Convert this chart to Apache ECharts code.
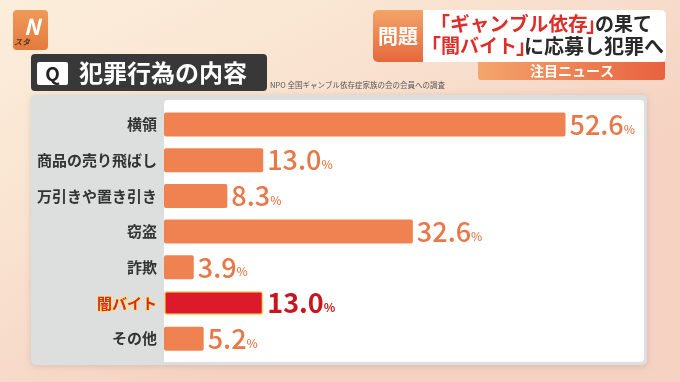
<!DOCTYPE html>
<html><head><meta charset="utf-8">
<script src="https://cdn.jsdelivr.net/npm/echarts@6/dist/echarts.min.js"></script>
<style>html,body{margin:0;padding:0;}#c{width:680px;height:382px;}</style>
</head><body><div id="c"></div>
<script>
const categories = ['横領','商品の売り飛ばし','万引きや置き引き','窃盗','詐欺','闇バイト','その他'];
const values = [52.6, 13.0, 8.3, 32.6, 3.9, 13.0, 5.2];
const highlight = '闇バイト';
const titleText = '犯罪行為の内容';
const noteText = 'NPO 全国ギャンブル依存症家族の会の会員への調査';

const FONT = '"Noto Sans CJK JP", "Noto Sans", sans-serif';
const ORANGE = '#F08150';
const RED = '#DD1A2C';
const HRED = '#DE2E2A';
const DARK = '#2A2A2A';

const chart = echarts.init(document.getElementById('c'));

function seg(x, y, text, color, size, align) {
  return { type: 'text', z: -3, x: x, y: y, style: { text: text, font: 'bold ' + size + 'px ' + FONT, fill: color, align: align || 'left', verticalAlign: 'middle' } };
}

const data = values.map((v, i) => {
  const hl = categories[i] === highlight;
  return hl ? {
    value: v,
    itemStyle: { color: RED, borderColor: '#F6DE72', borderWidth: 1.5 },
    label: { formatter: p => '{hv|' + p.value.toFixed(1) + '}{hp|%}' }
  } : { value: v };
});

chart.setOption({
  animation: false,
  graphic: [
    { type: 'rect', z: -10, shape: { x: 0, y: 0, width: 680, height: 382 },
      style: { fill: new echarts.graphic.LinearGradient(0, 0, 0.3, 1, [
        { offset: 0, color: '#FBEEDB' }, { offset: 0.5, color: '#F9E3D0' }, { offset: 1, color: '#F5D2C2' }]) } },
    // logo
    { type: 'rect', z: -5, shape: { x: 13, y: 10, width: 35, height: 40, r: 4 },
      style: { fill: new echarts.graphic.LinearGradient(0, 0, 0, 1, [
        { offset: 0, color: '#EE9A58' }, { offset: 1, color: '#E5793E' }]) } },
    { type: 'text', z: -4, x: 32, y: 27, style: { text: 'N', font: 'italic bold 22px ' + FONT, fill: '#fff', align: 'center', verticalAlign: 'middle' } },
    { type: 'text', z: -4, x: 22, y: 42, style: { text: 'スタ', font: 'italic bold 8px ' + FONT, fill: '#5A3420', align: 'center', verticalAlign: 'middle' } },
    // title box
    { type: 'rect', z: -5, shape: { x: 31, y: 54, width: 236, height: 37, r: 4 }, style: { fill: '#383838' } },
    { type: 'rect', z: -4, shape: { x: 37, y: 62, width: 31, height: 23, r: 2 }, style: { fill: '#fff' } },
    { type: 'text', z: -3, x: 52.5, y: 74, style: { text: 'Q', font: 'bold 19px ' + FONT, fill: '#222', align: 'center', verticalAlign: 'middle' } },
    { type: 'text', z: -3, x: 79, y: 73, style: { text: titleText, font: 'bold 24px ' + FONT, fill: '#fff', align: 'left', verticalAlign: 'middle' } },
    { type: 'text', z: -3, x: 270, y: 85, style: { text: noteText, font: '7.5px ' + FONT, fill: '#555', align: 'left', verticalAlign: 'middle' } },
    // top right headline
    { type: 'rect', z: -5, shape: { x: 423, y: 10, width: 243, height: 52, r: [0, 5, 5, 0] }, style: { fill: '#fff' } },
    { type: 'rect', z: -5, shape: { x: 373, y: 10, width: 50, height: 52, r: [5, 0, 0, 5] },
      style: { fill: new echarts.graphic.LinearGradient(0, 0, 0, 1, [
        { offset: 0, color: '#F2A468' }, { offset: 1, color: '#E6683D' }]) } },
    { type: 'text', z: -3, x: 398, y: 36, style: { text: '問題', font: 'bold 20px ' + FONT, fill: '#fff', align: 'center', verticalAlign: 'middle' } },
    // line 1
    seg(430, 24, '「', HRED, 20),
    seg(450, 24, 'ギャンブル依存', HRED, 19.7),
    seg(586, 24, '」', HRED, 20),
    seg(652, 24, 'の果て', DARK, 19, 'right'),
    // line 2
    seg(421, 46, '「', HRED, 20),
    seg(441, 46, '闇バイト', HRED, 19),
    seg(516, 46, '」', HRED, 20),
    seg(664, 46, 'に応募し犯罪へ', DARK, 20, 'right'),
    { type: 'rect', z: -5, shape: { x: 478, y: 62, width: 187, height: 18, r: [0, 0, 3, 3] },
      style: { fill: new echarts.graphic.LinearGradient(0, 0, 1, 0, [
        { offset: 0, color: '#F4A56C' }, { offset: 1, color: '#E8613F' }]) } },
    { type: 'text', z: -3, x: 572, y: 71, style: { text: '注目ニュース', font: 'bold 14px ' + FONT, fill: '#fff', align: 'center', verticalAlign: 'middle' } },
    // panels
    { type: 'rect', z: -6, shape: { x: 31, y: 95, width: 616, height: 270, r: 5 },
      style: { fill: '#DCDFDE', shadowColor: 'rgba(0,0,0,0.12)', shadowBlur: 6, shadowOffsetY: 1 } },
    { type: 'rect', z: -5, shape: { x: 164, y: 100, width: 480, height: 262, r: [4, 4, 4, 0] }, style: { fill: '#fff' } }
  ],
  grid: { left: 164, right: 58, top: 106.6, bottom: 25.4, containLabel: false },
  xAxis: { type: 'value', min: 0, max: 60, show: false },
  yAxis: {
    type: 'category', data: categories, inverse: true,
    axisLine: { show: false }, axisTick: { show: false }, splitLine: { show: false },
    axisLabel: {
      margin: 7,
      formatter: v => v === highlight ? '{h|' + v + '}' : '{n|' + v + '}',
      rich: {
        n: { fontFamily: FONT, fontWeight: 'bold', fontSize: 15, color: '#333' },
        h: { fontFamily: FONT, fontWeight: 'bold', fontSize: 15, color: '#D42A22', textBorderColor: '#FBE27A', textBorderWidth: 2 }
      }
    }
  },
  series: [{
    type: 'bar', data: data, barWidth: 24,
    itemStyle: { color: ORANGE, borderRadius: 2 },
    label: {
      show: true, position: 'right', distance: 4,
      formatter: p => '{v|' + p.value.toFixed(1) + '}{p|%}',
      rich: {
        v: { fontFamily: FONT, fontWeight: 500, fontSize: 27, color: '#E8784A' },
        p: { fontFamily: FONT, fontWeight: 500, fontSize: 12, color: '#E8784A', padding: [9, 0, 0, 0] },
        hv: { fontFamily: FONT, fontWeight: 'bold', fontSize: 27, color: '#C8161E' },
        hp: { fontFamily: FONT, fontWeight: 'bold', fontSize: 12, color: '#C8161E', padding: [9, 0, 0, 0] }
      }
    }
  }]
});
</script></body></html>
